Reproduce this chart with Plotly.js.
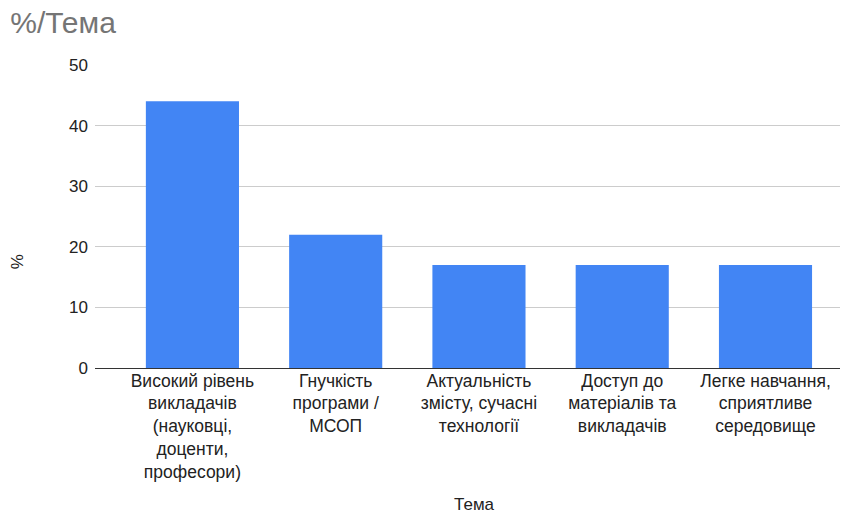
<!DOCTYPE html>
<html>
<head>
<meta charset="utf-8">
<script src="https://cdn.plot.ly/plotly-3.0.1.min.js"></script>
<style>html,body{margin:0;padding:0;background:#fff;}#chart{width:852px;height:513px;}</style>
</head>
<body>
<div id="chart"></div>
<script>
const categories = [
  "Високий рівень<br>викладачів<br>(науковці,<br>доценти,<br>професори)",
  "Гнучкість<br>програми /<br>МСОП",
  "Актуальність<br>змісту, сучасні<br>технології",
  "Доступ до<br>матеріалів та<br>викладачів",
  "Легке навчання,<br>сприятливе<br>середовище"
];
const values = [44, 22, 17, 17, 17];
const yTicks = [0, 10, 20, 30, 40, 50];

const font = "Arial, 'Liberation Sans', sans-serif";
Plotly.newPlot("chart", [{
  type: "bar",
  x: categories,
  y: values,
  marker: {color: "#4285F4"},
  width: 0.65,
  hoverinfo: "none"
}], {
  width: 852, height: 513,
  margin: {l: 95, r: 12, t: 65, b: 145},
  paper_bgcolor: "#fff", plot_bgcolor: "#fff",
  font: {family: font, size: 17, color: "#222"},
  title: {text: "%/Тема", x: 0.012, xanchor: "left", y: 0.957, yanchor: "middle",
          font: {family: font, size: 30, color: "#757575"}},
  xaxis: {
    type: "category",
    range: [-0.68, 4.52],
    showgrid: false, showline: false, zeroline: false,
    ticks: "", tickfont: {size: 17.5, color: "#222"}
  },
  yaxis: {
    range: [0, 50],
    tickvals: yTicks,
    showgrid: true, gridcolor: "#cccccc", gridwidth: 1,
    zeroline: true, zerolinecolor: "#333333", zerolinewidth: 1,
    ticks: "", tickfont: {size: 17, color: "#222"},
    ticklabelstandoff: 6
  },
  annotations: [{
    text: "%", xref: "paper", yref: "paper", x: -0.103, y: 0.35,
    xanchor: "center", yanchor: "middle", textangle: -90, showarrow: false,
    font: {family: font, size: 17, color: "#222"}
  }, {
    text: "Тема", xref: "paper", yref: "paper", x: 0.51, y: -0.452,
    xanchor: "center", yanchor: "middle", showarrow: false,
    font: {family: font, size: 17, color: "#222"}
  }],
  bargap: 0.35,
  showlegend: false
}, {displayModeBar: false, staticPlot: true});
</script>
</body>
</html>
